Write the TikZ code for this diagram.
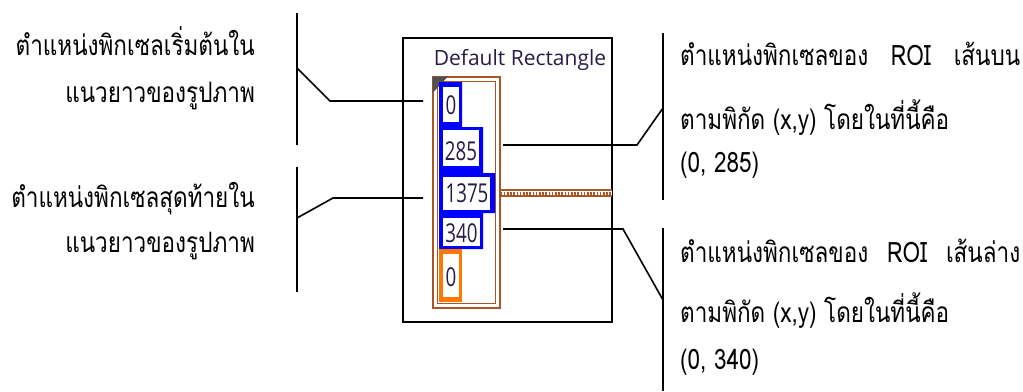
\documentclass[tikz,border=0pt]{standalone}
\usepackage{fontspec}
\newfontfamily\thaifont[Script=Thai]{Loma}
\newfontfamily\uifont{Open Sans}
\definecolor{lvbrown}{RGB}{170,85,40}
\definecolor{lvblue}{RGB}{0,0,255}
\definecolor{lvorange}{RGB}{255,120,0}
\definecolor{lvnavy}{RGB}{40,28,70}
\definecolor{lvgray}{RGB}{80,80,80}
\newcommand{\tlbl}[1]{\scalebox{1}[1.25]{#1}}
\newcommand{\dig}[1]{\scalebox{0.72}[1]{#1}}
\begin{document}
\begin{tikzpicture}[x=1pt,y=-1pt,
  label/.style={inner sep=0pt,font=\thaifont\fontsize{22.5}{26}\selectfont},
  num/.style={inner sep=0pt,font=\uifont\fontsize{26}{30}\selectfont,text=lvnavy},
  conn/.style={line width=1.6pt,black},
  bar/.style={line width=1.8pt,black}]
\useasboundingbox (0,0) rectangle (1023,391);
% left labels
\node[label,anchor=base east] (l1a) at (255,55) {\tlbl{ตำแหน่งพิกเซลเริ่มต้นใน}};
\node[label,anchor=base east] (l1b) at (255,102) {\tlbl{แนวยาวของรูปภาพ}};
\node[label,anchor=base east] (l2a) at (255,207) {\tlbl{ตำแหน่งพิกเซลสุดท้ายใน}};
\node[label,anchor=base east] (l2b) at (255,252) {\tlbl{แนวยาวของรูปภาพ}};
% right labels
\node[label,anchor=base west] (r1a) at (680,65) {\tlbl{\makebox[340pt][s]{ตำแหน่งพิกเซลของ ROI เส้นบน}}};
\node[label,anchor=base west] (r1b) at (680,129) {\tlbl{ตามพิกัด (x,y) โดยในที่นี้คือ}};
\node[label,anchor=base west] (r1c) at (680,172) {\tlbl{(0, 285)}};
\node[label,anchor=base west] (r2a) at (680,262) {\tlbl{\makebox[340pt][s]{ตำแหน่งพิกเซลของ ROI เส้นล่าง}}};
\node[label,anchor=base west] (r2b) at (680,322) {\tlbl{ตามพิกัด (x,y) โดยในที่นี้คือ}};
\node[label,anchor=base west] (r2c) at (680,369) {\tlbl{(0, 340)}};
% bracket bars
\coordinate (b1t) at (297,13); \coordinate (b1b) at (297,145);
\coordinate (b2t) at (297,167); \coordinate (b2b) at (297,292);
\coordinate (b3t) at (663,33); \coordinate (b3b) at (663,200);
\coordinate (b4t) at (663,228); \coordinate (b4b) at (663,391);
\draw[bar] (b1t) -- (b1b);
\draw[bar] (b2t) -- (b2b);
\draw[bar] (b3t) -- (b3b);
\draw[bar] (b4t) -- (b4b);
% front panel frame
\draw[line width=1.5pt] (403,38) rectangle (612,322);
\node[inner sep=0pt,font=\uifont\fontsize{21}{24}\selectfont,text=lvnavy,anchor=base] (title) at (520,65) {Default Rectangle};
% cluster
\draw[lvbrown,line width=1.3pt] (433,77) rectangle (500,308);
\draw[lvbrown,line width=1.3pt] (437.5,81.5) rectangle (495.5,303.5);
\fill[lvgray] (432.5,76.5) -- (448,76.5) -- (432.5,93) -- cycle;
\fill[lvblue] (439,82) -- (462,82) -- (462,127) -- (483,127) -- (483,173) -- (495,173) -- (495,213) -- (483,213) -- (483,249) -- (439,249) -- cycle;
\fill[lvorange] (439,249) rectangle (462,302);
\fill[white] (443,87) rectangle (459,122);
\fill[white] (443,130) rectangle (479,166);
\fill[white] (443,177) rectangle (490,210);
\fill[white] (443,218) rectangle (480,246);
\fill[white] (443,254) rectangle (459,297);
\node[num,anchor=base] (v0) at (451,114) {\dig{0}};
\node[num,anchor=base] (v1) at (461,160) {\dig{285}};
\node[num,anchor=base] (v2) at (467,202) {\dig{1375}};
\node[num,anchor=base] (v3) at (461.5,242) {\dig{340}};
\node[num,anchor=base] (v4) at (451,286) {\dig{0}};
% cluster wire
\coordinate (w0) at (500.5,193); \coordinate (w1) at (611.5,193);
\draw[lvbrown,line width=8pt] (w0) -- (w1);
\draw[white,line width=4pt] (w0) -- (w1);
\draw[lvbrown,line width=3pt,dash pattern=on 1.6pt off 1.6pt] (w0) -- (w1);
% connectors
\coordinate (c1s) at (297,68); \coordinate (c1k) at (330,101); \coordinate (c1e) at (423,101);
\coordinate (c2s) at (297,218); \coordinate (c2k) at (333,198); \coordinate (c2e) at (423,198);
\coordinate (c3s) at (503,145); \coordinate (c3k) at (637,145); \coordinate (c3e) at (663,108);
\coordinate (c4s) at (503,229); \coordinate (c4k) at (623,229); \coordinate (c4e) at (663,300);
\draw[conn] (c1s) -- (c1k) -- (c1e);
\draw[conn] (c2s) -- (c2k) -- (c2e);
\draw[conn] (c3s) -- (c3k) -- (c3e);
\draw[conn] (c4s) -- (c4k) -- (c4e);
\end{tikzpicture}
\end{document}
